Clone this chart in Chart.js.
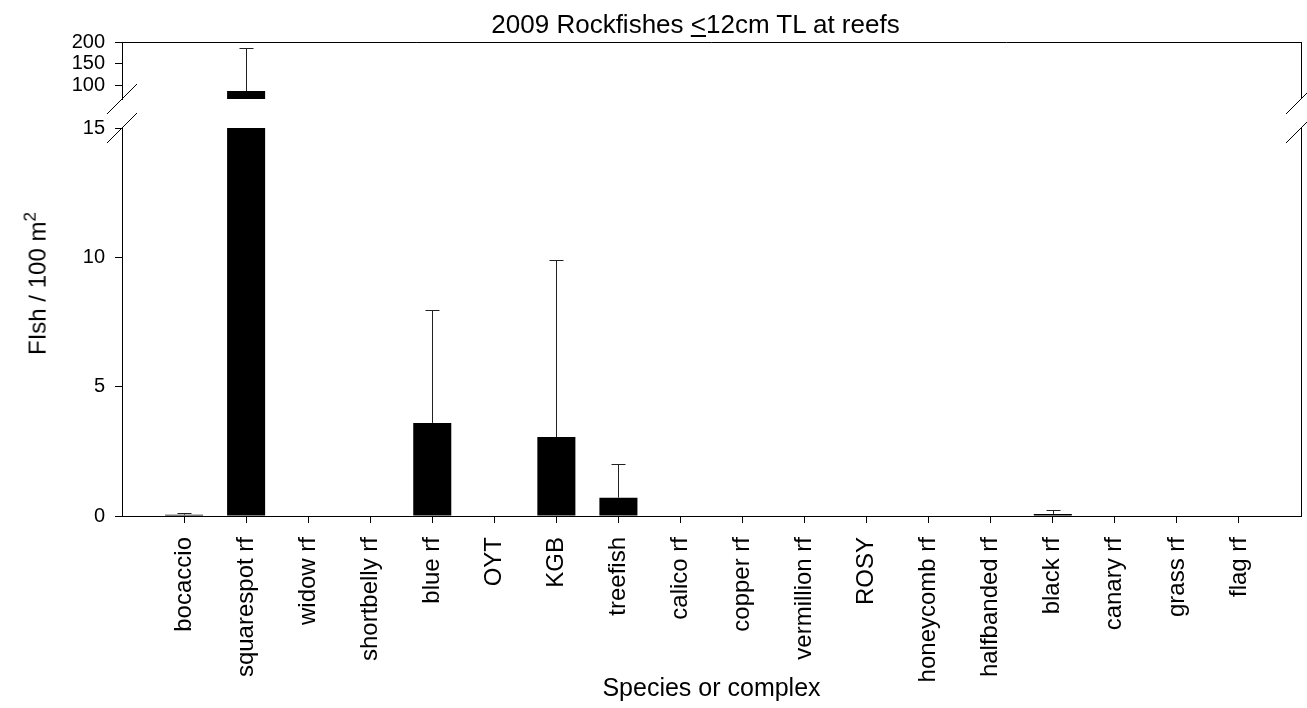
<!DOCTYPE html>
<html>
<head>
<meta charset="utf-8">
<title>2009 Rockfishes at reefs</title>
<script src="https://cdn.jsdelivr.net/npm/chart.js@4.4.0/dist/chart.umd.min.js"></script>
<style>
  body { margin: 0; background: #fff; font-family: Arial, "Liberation Sans", sans-serif; }
  #wrap { position: relative; width: 1307px; height: 708px; overflow: hidden; }
  #wrap canvas { position: absolute; left: 0; top: 0; }
  #title { position: absolute; left: 0; top: 11px; width: 1391px; text-align: center;
           font-size: 26px; line-height: 26px; white-space: nowrap; color: #000; }
  #ytitle { position: absolute; left: 38px; top: 355px; transform-origin: 0 0;
            transform: rotate(-90deg) translateY(-50%); font-size: 24px; line-height: 28.8px;
            white-space: nowrap; color: #000; }
  #ytitle sup { font-size: 17px; line-height: 0; vertical-align: 10px; }
</style>
</head>
<body>
<div id="wrap">
  <canvas id="upperChart" width="1307" height="708"></canvas>
  <canvas id="lowerChart" width="1307" height="708"></canvas>
  <div id="title">2009 Rockfishes <u>&lt;</u>12cm TL at reefs</div>
  <div id="ytitle">FIsh / 100 m<sup>2</sup></div>
</div>
<script>
/* data */
const species = ['bocaccio', 'squarespot rf', 'widow rf', 'shortbelly rf', 'blue rf', 'OYT', 'KGB',
  'treefish', 'calico rf', 'copper rf', 'vermillion rf', 'ROSY', 'honeycomb rf', 'halfbanded rf',
  'black rf', 'canary rf', 'grass rf', 'flag rf'];
const meanDensity = [0.05, 88, 0, 0, 3.6, 0, 3.05, 0.71, 0, 0, 0, 0, 0, 0, 0.08, 0, 0, 0];
const upperError = [0.12, 187, null, null, 7.95, null, 9.9, 2.02, null, null, null, null, null, null, 0.22, null, null, null];
const lowerTicks = [0, 5, 10, 15];
const upperTicks = [100, 150, 200];

// blank category at each end gives the empty slot either side of the bars
const paddedLabels = [''].concat(species, ['']);
const paddedMeans = [null].concat(meanDensity, [null]);

Chart.defaults.font.family = 'Arial, "Liberation Sans", sans-serif';
Chart.defaults.color = '#000';

/* error bars (upper side only), drawn through the chart's scales */
const errorBars = {
  id: 'errorBars',
  afterDatasetsDraw(chart) {
    const { ctx, chartArea: a, scales: { x, y } } = chart;
    ctx.save();
    ctx.beginPath();
    ctx.rect(a.left, a.top, a.right - a.left, a.bottom - a.top);
    ctx.clip();
    ctx.strokeStyle = '#222';
    ctx.lineWidth = 1;
    upperError.forEach((hi, i) => {
      if (hi == null) return;
      const px = Math.round(x.getPixelForValue(i + 1)) + 0.5;
      const y0 = y.getPixelForValue(meanDensity[i]);
      const y1 = Math.round(y.getPixelForValue(hi)) + 0.5;
      ctx.beginPath();
      ctx.moveTo(px, y0);
      ctx.lineTo(px, y1);
      ctx.moveTo(px - 7, y1);
      ctx.lineTo(px + 7, y1);
      ctx.stroke();
    });
    ctx.restore();
  }
};

/* frame lines + axis break slashes */
const frame = {
  id: 'frame',
  afterDraw(chart, args, opts) {
    const { ctx, chartArea: a } = chart;
    const r = Math.floor(a.right) + 0.5;
    ctx.save();
    ctx.strokeStyle = '#000';
    ctx.lineWidth = 1;
    ctx.beginPath();
    if (opts.top) {
      ctx.moveTo(a.left, Math.floor(a.top) + 0.5);
      ctx.lineTo(r, Math.floor(a.top) + 0.5);
    }
    ctx.moveTo(r, a.top);
    ctx.lineTo(r, a.bottom);
    const yb = opts.breakAt === 'bottom' ? a.bottom : a.top;
    [a.left, a.right].forEach(xb => {
      ctx.moveTo(xb - 15, yb + 15);
      ctx.lineTo(xb + 15, yb - 15);
    });
    ctx.stroke();
    ctx.restore();
  }
};

function yAxis(min, max, ticks) {
  return {
    min, max,
    afterBuildTicks: s => { s.ticks = ticks.map(v => ({ value: v })); },
    afterFit: s => { s.width = 122; },
    grid: { drawOnChartArea: false, tickLength: 7, color: '#000' },
    border: { color: '#000' },
    ticks: { padding: 10, font: { size: 20 }, color: '#000' }
  };
}

function barData() {
  return {
    labels: paddedLabels,
    datasets: [{
      data: paddedMeans,
      backgroundColor: '#000',
      borderWidth: 0,
      barPercentage: 0.613,
      categoryPercentage: 1
    }]
  };
}

// upper panel: 70-200 part of the broken axis
new Chart(document.getElementById('upperChart'), {
  type: 'bar',
  data: barData(),
  options: {
    responsive: false,
    animation: false,
    layout: { padding: { top: 42, right: 6, bottom: 609, left: 0 }, autoPadding: false },
    plugins: { legend: { display: false }, tooltip: { enabled: false }, frame: { top: true, breakAt: 'bottom' } },
    scales: {
      x: { type: 'category', display: false, offset: false },
      y: yAxis(70, 200, upperTicks)
    }
  },
  plugins: [errorBars, frame]
});

// lower panel: 0-15 with the species axis
new Chart(document.getElementById('lowerChart'), {
  type: 'bar',
  data: barData(),
  options: {
    responsive: false,
    animation: false,
    layout: { padding: { top: 128, right: 6, bottom: 0, left: 0 }, autoPadding: false },
    plugins: { legend: { display: false }, tooltip: { enabled: false }, frame: { top: false, breakAt: 'top' } },
    scales: {
      x: {
        type: 'category',
        offset: false,
        afterFit: s => { s.height = 192; s.paddingLeft = 0; s.paddingRight = 0; },
        grid: {
          offset: false, drawOnChartArea: false, tickLength: 7,
          color: c => (c.tick && c.tick.label === '') ? 'rgba(0,0,0,0)' : '#000'
        },
        border: { color: '#000' },
        ticks: { autoSkip: false, minRotation: 90, maxRotation: 90, padding: 14, font: { size: 24 }, color: '#000' },
        title: { display: true, text: 'Species or complex', font: { size: 25 }, color: '#000', padding: { top: 0, bottom: 4 } }
      },
      y: yAxis(0, 15, lowerTicks)
    }
  },
  plugins: [errorBars, frame]
});
</script>
</body>
</html>
